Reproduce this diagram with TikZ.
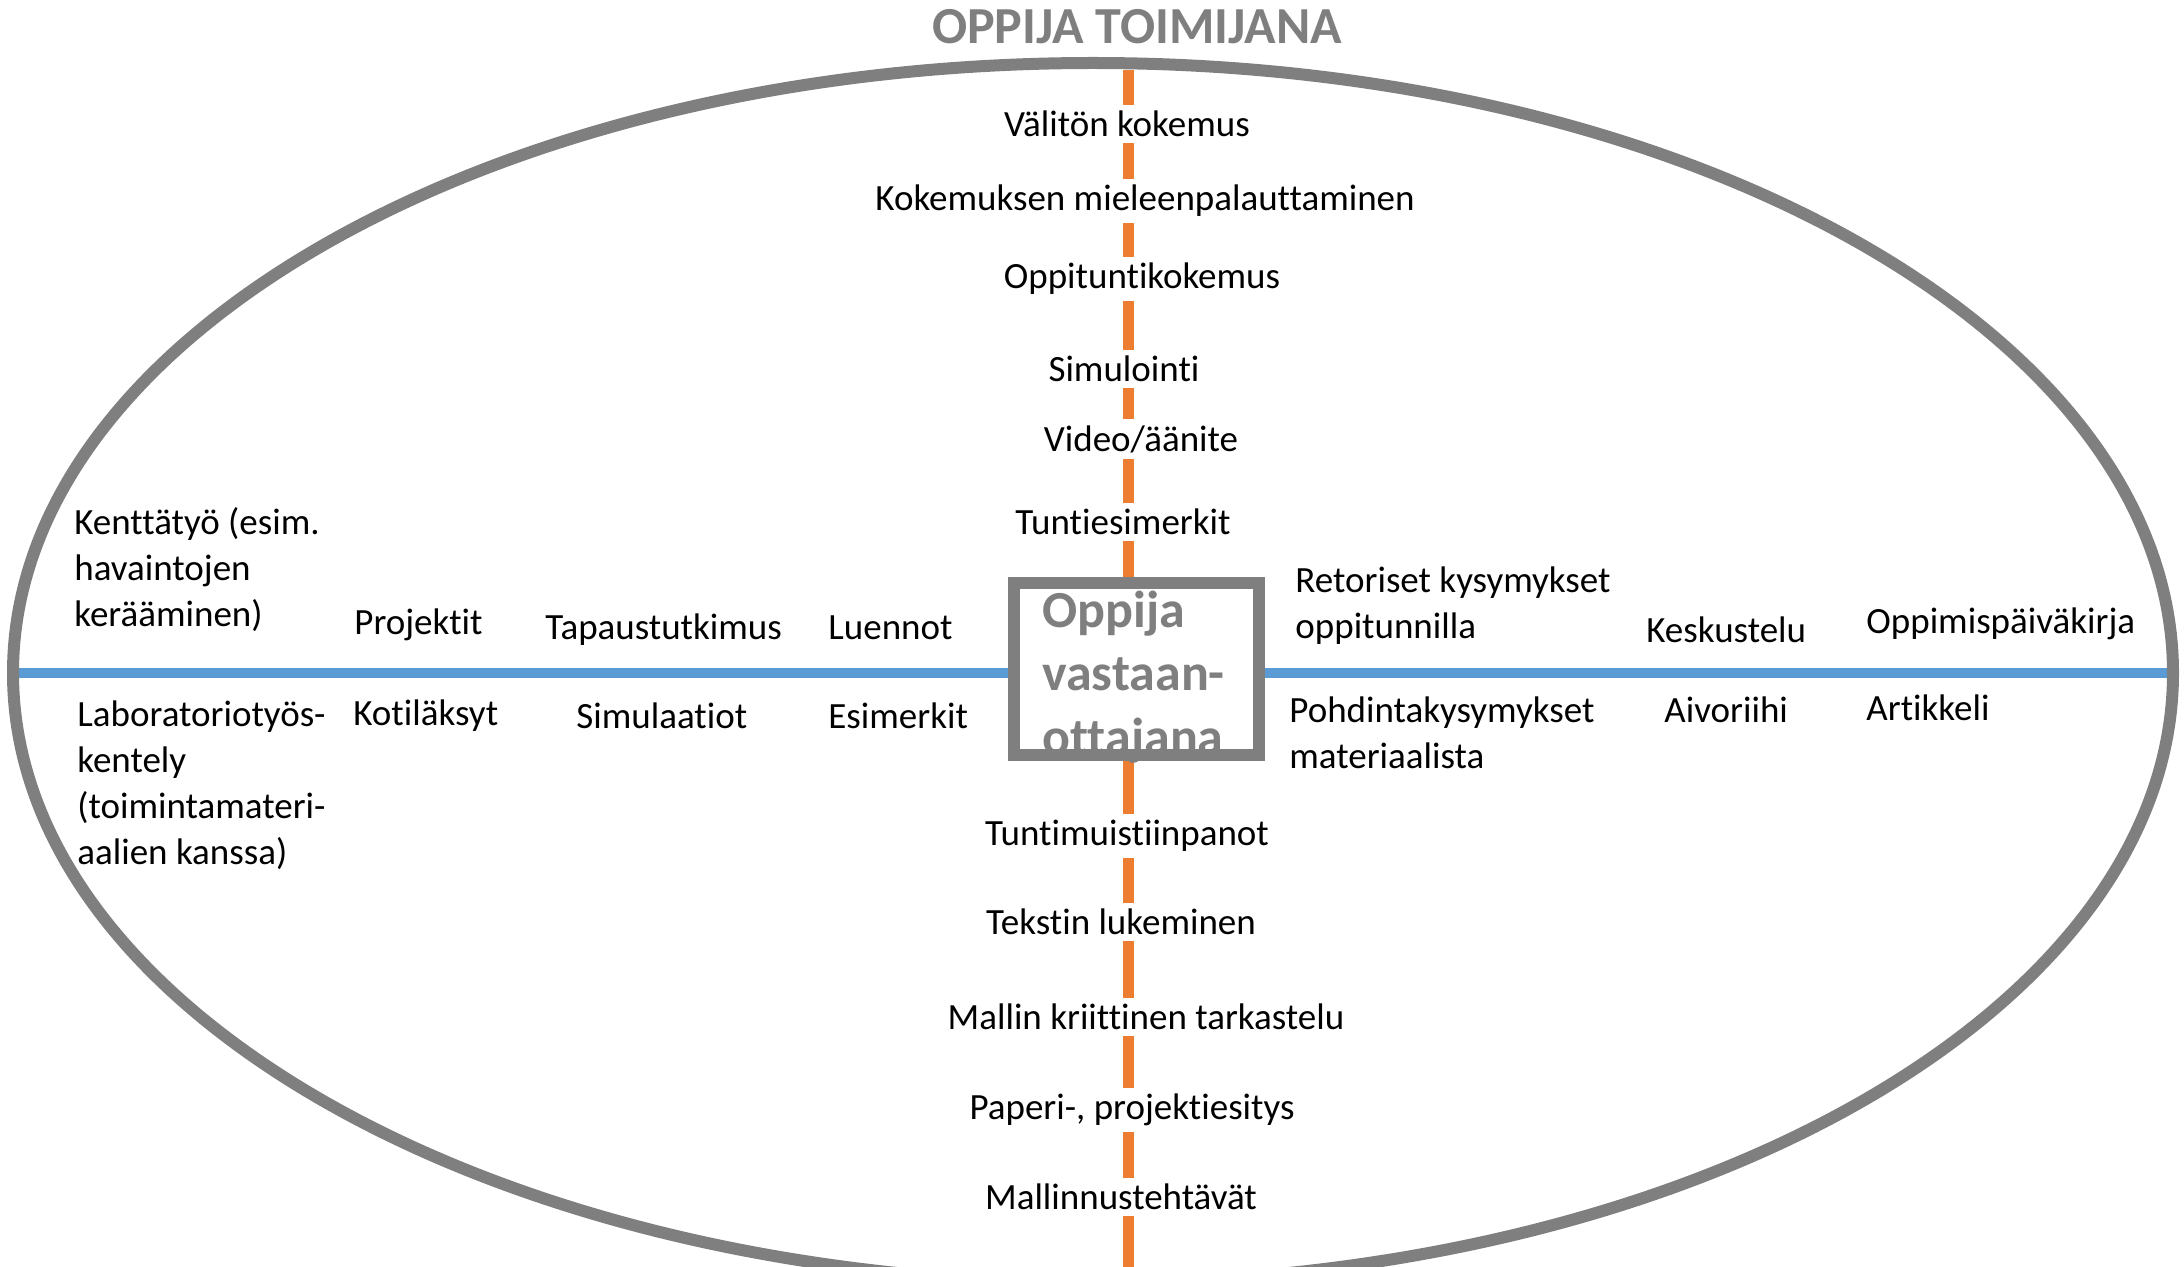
\documentclass[tikz,border=0pt]{standalone}
\usepackage{fontspec}
\setmainfont{Carlito}[Ligatures=NoCommon]
\definecolor{cOrange}{HTML}{ED7D31}
\definecolor{cBlue}{HTML}{5B9BD5}
\definecolor{cGray}{HTML}{7F7F7F}
\pgfdeclarelayer{bg}
\pgfsetlayers{bg,main}
\tikzset{
  lbl/.style={font=\fontsize{18.5pt}{23pt}\selectfont, inner sep=1pt},
  vlbl/.style={lbl, fill=white, anchor=center, inner sep=3pt},
  hlbl/.style={lbl, anchor=west, align=left},
  bigtxt/.style={font=\fontsize{26pt}{31.7pt}\selectfont\bfseries, text=cGray},
  orangeline/.style={draw=cOrange, line width=5.5pt},
  blueline/.style={draw=cBlue, line width=5pt},
  frameline/.style={draw=cGray, line width=6pt},
}
\begin{document}
\begin{tikzpicture}[x=0.5pt,y=-0.5pt]
\useasboundingbox (0,0) rectangle (2184,1267);
\clip (0,0) rectangle (2184,1267);
% outer ellipse
\draw[frameline] (1093,673) ellipse [x radius=540pt, y radius=305pt];
% title
\node[bigtxt] (title) at (1137,27) {OPPIJA TOIMIJANA};
% axis ends
\coordinate (T) at (1128,70);
\coordinate (B) at (1128,1267);
\coordinate (L) at (17,673);
\coordinate (R) at (2173,673);
% central box
\node[fill=white, minimum width=122.5pt, minimum height=86pt, inner sep=0pt] (box) at (1136.5,669) {};
\node[bigtxt, anchor=west, align=left, inner sep=0pt] (boxtext) at (1042,677) {Oppija\\vastaan-\\ottajana};
\draw[frameline] (box.north west) rectangle (box.south east);
% vertical labels
\node[vlbl] (v1) at (1127,124) {Välitön kokemus};
\node[vlbl] (v2) at (1145,201) {Kokemuksen mieleenpalauttaminen};
\node[vlbl] (v3) at (1142,279) {Oppituntikokemus};
\node[vlbl] (v4) at (1124,369) {Simulointi};
\node[vlbl] (v5) at (1141,439) {Video/äänite};
\node[vlbl] (v6) at (1123,522) {Tuntiesimerkit};
\node[vlbl] (v7) at (1127,836) {Tuntimuistiinpanot};
\node[vlbl] (v8) at (1121,922) {Tekstin lukeminen};
\node[vlbl] (v9) at (1146,1017) {Mallin kriittinen tarkastelu};
\node[vlbl] (v10) at (1132,1110) {Paperi-, projektiesitys};
\node[vlbl] (v11) at (1121,1197) {Mallinnustehtävät};
% horizontal labels above the line
\node[hlbl] (h1) at (72,570) {Kenttätyö (esim.\\havaintojen\\kerääminen)};
\node[hlbl] (h2) at (352,625) {Projektit};
\node[hlbl] (h3) at (543,630) {Tapaustutkimus};
\node[hlbl] (h4) at (826,628) {Luennot};
\node[hlbl] (h5) at (1293,606) {Retoriset kysymykset\\oppitunnilla};
\node[hlbl] (h6) at (1644,630) {Keskustelu};
\node[hlbl] (h7) at (1864,624) {Oppimispäiväkirja};
% horizontal labels below the line
\node[hlbl] (g1) at (75,785) {Laboratoriotyös-\\kentely\\(toimintamateri-\\aalien kanssa)};
\node[hlbl] (g2) at (351,716) {Kotiläksyt};
\node[hlbl] (g3) at (574,716) {Simulaatiot};
\node[hlbl] (g4) at (826,716) {Esimerkit};
\node[hlbl] (g5) at (1287,733) {Pohdintakysymykset\\materiaalista};
\node[hlbl] (g6) at (1662,710) {Aivoriihi};
\node[hlbl] (g7) at (1864,708) {Artikkeli};
% axes behind
\begin{pgfonlayer}{bg}
\draw[blueline] (L) -- (L -| box.west);
\draw[blueline] (R -| box.east) -- (R);
\draw[orangeline] (T) -- (T |- box.north);
\draw[orangeline] (T |- box.south) -- (B);
\end{pgfonlayer}
\end{tikzpicture}
\end{document}
